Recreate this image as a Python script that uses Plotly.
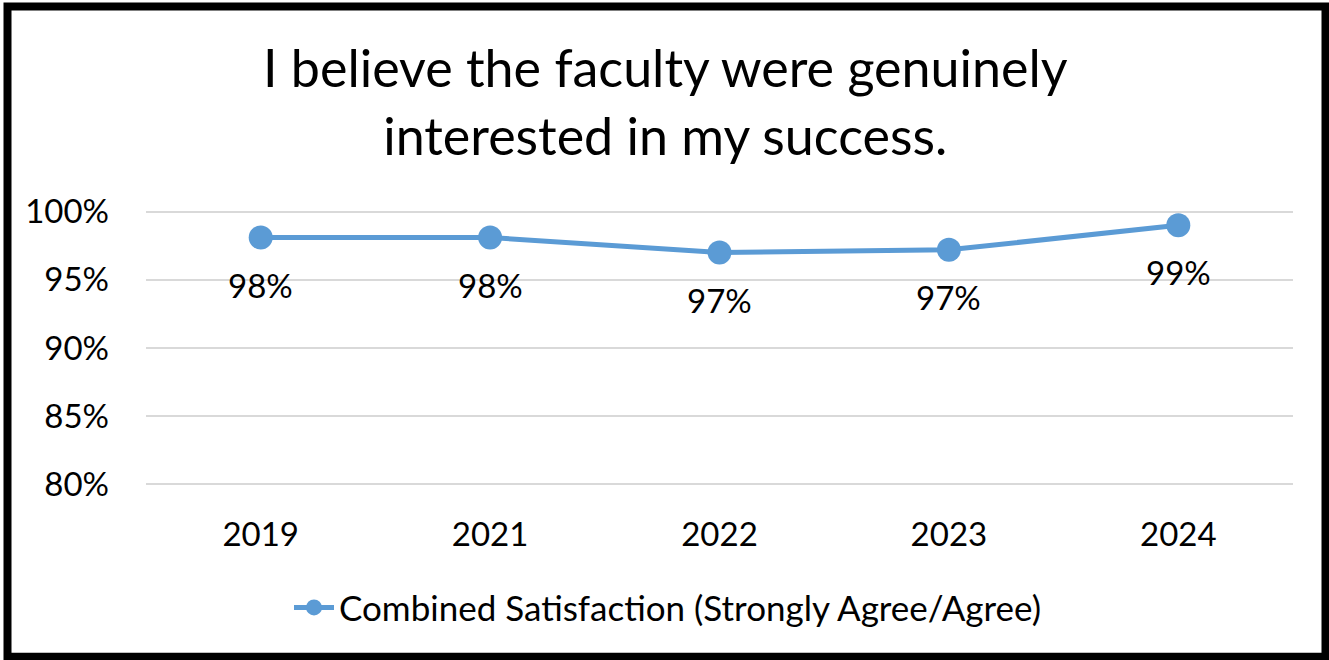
import plotly.graph_objects as go

years = ["2019", "2021", "2022", "2023", "2024"]
satisfaction = [0.981, 0.981, 0.970, 0.972, 0.990]
value_labels = ["98%", "98%", "97%", "97%", "99%"]
y_ticks = [0.80, 0.85, 0.90, 0.95, 1.00]
y_tick_labels = ["80%", "85%", "90%", "95%", "100%"]
series_name = "Combined Satisfaction (Strongly Agree/Agree)"
title_lines = ["I believe the faculty were genuinely", "interested in my success."]

W, H = 1329, 660
Y_MIN, Y_MAX = 0.79, 1.01
PX_100, PX_80 = 212, 484
px_per_unit = (PX_80 - PX_100) / 0.20
L, R = 146, 1293
T = PX_100 - (Y_MAX - 1.00) * px_per_unit
B = PX_80 + (0.80 - Y_MIN) * px_per_unit
FONT = "Lato"
BLUE = "#5B9BD5"

def px_x(px):
    return (px - L) / (R - L)

def px_y(py):
    return (B - py) / (B - T)

fig = go.Figure()
fig.add_trace(go.Scatter(
    x=years, y=satisfaction, mode="lines+markers", name=series_name,
    line=dict(color=BLUE, width=5),
    marker=dict(color=BLUE, size=24),
    cliponaxis=False,
))

annotations = []
for i, (v, lab) in enumerate(zip(satisfaction, value_labels)):
    annotations.append(dict(x=i, y=v, xref="x", yref="y", text=lab, showarrow=False,
                            yshift=-47, font=dict(family=FONT, size=33, color="#000000")))

annotations.append(dict(x=px_x(665), y=px_y(102), xref="paper", yref="paper",
                        text="<br>".join(title_lines),
                        showarrow=False, xanchor="center", yanchor="middle",
                        font=dict(family=FONT, size=52, color="#000000")))

fig.update_layout(
    width=W, height=H,
    margin=dict(l=L, r=W - R, t=T, b=H - B, pad=0),
    paper_bgcolor="white", plot_bgcolor="white",
    showlegend=True,
    legend=dict(orientation="h", x=px_x(668), xanchor="center", y=px_y(607), yanchor="middle",
                font=dict(family=FONT, size=35, color="#000000"), itemwidth=40,
                bgcolor="rgba(0,0,0,0)"),
    xaxis=dict(type="category", range=[-0.5, 4.5], showgrid=False, showline=False, zeroline=False,
               ticks="", tickfont=dict(family=FONT, size=33, color="#000000"),
               ticklabelstandoff=int(round(28 - (0.80 - Y_MIN) * px_per_unit))),
    yaxis=dict(range=[Y_MIN, Y_MAX], tickvals=y_ticks, ticktext=y_tick_labels,
               showgrid=True, gridcolor="#D9D9D9", gridwidth=2, zeroline=False, showline=False,
               ticks="", tickfont=dict(family=FONT, size=33, color="#000000"), ticklabelstandoff=36),
    annotations=annotations,
    shapes=[dict(type="rect", xref="paper", yref="paper",
                 x0=px_x(7.5), x1=px_x(1325.5), y0=px_y(656), y1=px_y(7.5),
                 line=dict(color="#000000", width=8), fillcolor="rgba(0,0,0,0)", layer="above")],
)

fig.write_html("out.html", config={"displayModeBar": False},
               post_script="document.body.style.margin='0';document.body.style.overflow='hidden';")
